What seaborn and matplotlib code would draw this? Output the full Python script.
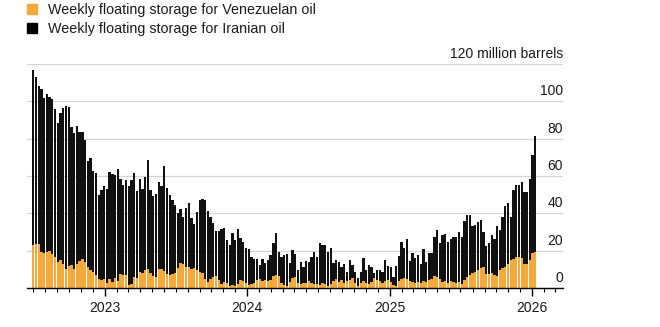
import numpy as np
import pandas as pd
import matplotlib
matplotlib.use("Agg")
import matplotlib.pyplot as plt
import matplotlib.dates as mdates
import matplotlib.transforms as mtransforms
from matplotlib.lines import Line2D
import seaborn as sns

# ---------------- data (million barrels, weekly) ----------------
first_week = "2022-07-01"

venezuelan = [
    23.2, 23.7, 23.7, 19.2, 18.9, 19.2, 19.6, 18.3, 16.6, 13.9, 14.8, 13.0, 10.0, 11.8, 12.5, 10.4, 13.0,
    14.4, 15.6, 13.9, 11.2, 9.5, 8.6, 7.2, 5.0, 4.1, 5.0, 2.9, 4.7, 3.3, 5.4, 3.6, 7.7, 7.2,
    6.9, 1.6, 2.1, 6.0, 5.2, 8.7, 7.8, 9.6, 10.0, 7.8, 6.4, 5.7, 10.0, 10.0, 9.3, 7.5, 6.9, 7.5,
    7.8, 10.5, 13.5, 12.8, 11.4, 11.4, 10.0, 10.9, 9.6, 8.7, 8.2, 4.6, 3.4, 4.6, 6.0, 6.4, 4.3, 2.1,
    3.4, 2.5, 1.0, 1.6, 1.0, 2.0, 4.3, 3.7, 2.5, 1.6, 2.0, 2.9, 4.3, 4.6, 3.7, 4.3, 3.9, 4.3, 6.4, 7.0,
    6.4, 2.5, 1.6, 1.0, 3.4, 5.2, 5.7, 2.5, 2.0, 2.9, 2.5, 3.9, 2.5, 2.0, 2.0, 1.6, 2.9, 2.0, 1.0, 2.0,
    3.9, 4.6, 3.4, 4.3, 2.5, 3.9, 4.3, 5.2, 2.5, 1.0, 2.9, 3.9, 2.9, 2.0, 3.4, 5.2, 4.3, 3.9, 2.5, 3.9,
    4.3, 3.4, 1.6, 1.0, 3.9, 4.6, 5.2, 4.6, 3.9, 3.4, 2.5, 3.4, 2.9, 3.9, 3.4, 4.3, 4.6, 6.4, 5.7, 4.6,
    3.4, 3.9, 2.9, 3.9, 3.4, 2.9, 3.4, 2.1, 4.3, 6.0, 6.9, 7.8, 8.7, 9.6, 10.5, 11.4, 7.5, 7.5, 8.2,
    6.9, 6.4, 9.5, 10.6, 11.5, 13.0, 15.0, 15.5, 16.5, 16.5, 16.0, 13.0, 13.0, 15.0, 19.0, 19.4,
]

iranian = [
    93.8, 89.3, 84.3, 87.4, 82.9, 84.8, 82.9, 82.7, 79.4, 74.5, 78.8, 83.6, 87.5, 85.2, 73.5, 72.5, 73.6,
    69.4, 68.2, 65.4, 57.1, 60.2, 54.0, 54.3, 44.9, 48.3, 49.4, 50.2, 57.7, 57.8, 54.9, 59.9, 50.8, 47.8,
    50.9, 52.9, 55.7, 55.7, 46.8, 49.9, 45.5, 49.6, 58.8, 44.6, 42.8, 44.9, 46.9, 44.9, 55.9, 46.3, 42.8, 39.6,
    36.6, 29.8, 28.6, 25.3, 31.7, 33.9, 27.6, 23.3, 31.2, 38.4, 39.4, 42.5, 38.0, 33.5, 28.9, 24.1, 26.3, 29.4,
    28.5, 23.2, 22.0, 27.7, 24.7, 29.4, 22.3, 21.1, 18.7, 19.1, 14.4, 12.4, 11.0, 7.7, 11.6, 9.2, 11.0, 13.3, 17.5, 22.3,
    13.0, 13.9, 16.0, 17.2, 9.8, 15.1, 12.5, 7.1, 12.1, 8.5, 12.1, 10.2, 14.3, 17.4, 14.8, 22.3, 20.1, 21.0, 18.4, 19.2,
    9.6, 10.3, 10.7, 6.7, 10.3, 4.8, 10.6, 7.1, 6.2, 4.2, 5.8, 12.0, 6.7, 10.3, 7.6, 3.0, 5.3, 5.7, 6.2, 11.0,
    7.4, 7.6, 4.5, 10.7, 13.2, 20.2, 16.0, 21.4, 10.5, 15.1, 13.4, 14.2, 9.9, 16.8, 10.7, 14.2, 14.3, 20.7, 25.3, 19.3,
    24.9, 24.8, 21.8, 22.6, 23.7, 24.5, 26.8, 25.3, 31.7, 33.0, 32.1, 25.3, 25.3, 25.8, 25.8, 18.8, 14.9, 16.7, 20.1,
    19.6, 26.7, 21.8, 27.5, 32.4, 32.6, 23.1, 37.2, 38.6, 38.6, 40.9, 38.5, 38.5, 43.6, 52.1, 61.9,
]

y_ticks = [0, 20, 40, 60, 80, 100, 120]
y_tick_labels = ["0", "20", "40", "60", "80", "100", "120 million barrels"]
legend_labels = ["Weekly floating storage for Venezuelan oil",
                 "Weekly floating storage for Iranian oil"]

# ---------------- styling ----------------
ORANGE = "#F6A93B"
BLACK = "#111111"
GRID = "#d5d5d5"
TEXT = "#1a1a1a"

weeks = pd.date_range(first_week, periods=len(venezuelan), freq="7D")
df = pd.DataFrame({
    "x": mdates.date2num(weeks.to_pydatetime()),
    "Venezuelan": venezuelan,
    "Iranian": iranian,
})
df["Total"] = df["Venezuelan"] + df["Iranian"]

sns.set_theme(style="white")
plt.rcParams["font.family"] = ["Liberation Sans", "DejaVu Sans"]

W, H = 660, 327
fig = plt.figure(figsize=(W / 100, H / 100), dpi=100)
ax_left, ax_right, ax_bottom, ax_top = 27, 563, 288, 64
ax = fig.add_axes([ax_left / W, 1 - ax_bottom / H, (ax_right - ax_left) / W, (ax_bottom - ax_top) / H])

# stacked bars: total (black, Iranian on top) then Venezuelan (orange) at the base
sns.barplot(data=df, x="x", y="Total", native_scale=True, orient="x", color=BLACK,
            saturation=1, width=0.84, errorbar=None, linewidth=0, ax=ax)
sns.barplot(data=df, x="x", y="Venezuelan", native_scale=True, orient="x", color=ORANGE,
            saturation=1, width=0.84, errorbar=None, linewidth=0, ax=ax)

ax.set_xlim(mdates.date2num(pd.Timestamp("2022-06-15")), mdates.date2num(pd.Timestamp("2026-03-21")))
ax.set_ylim(0, 120)
ax.set_xlabel("")
ax.set_ylabel("")

# grid and spines
ax.set_yticks(y_ticks)
ax.tick_params(axis="y", left=False, right=False, labelleft=False, labelright=False)
ax.yaxis.grid(True, color=GRID, linewidth=0.9)
ax.set_axisbelow(True)
for s in ["top", "right", "left"]:
    ax.spines[s].set_visible(False)
ax.spines["bottom"].set_color("black")
ax.spines["bottom"].set_linewidth(1.0)
ax.spines["bottom"].set_zorder(5)

# x axis ticks
ax.xaxis.set_major_locator(mdates.YearLocator())
ax.xaxis.set_major_formatter(mdates.DateFormatter("%Y"))
ax.xaxis.set_minor_locator(mdates.MonthLocator())
ax.tick_params(axis="x", which="major", bottom=True, length=6, width=1, color="black",
               pad=3.5, labelsize=10, labelcolor=TEXT)
ax.tick_params(axis="x", which="minor", bottom=True, length=3, width=0.8, color="black")

# y labels sit above gridlines at the right end
trans = mtransforms.offset_copy(ax.get_yaxis_transform(), fig=fig, y=4.3, units="points")
for v, lab in zip(y_ticks, y_tick_labels):
    ax.text(1.0, v, lab, transform=trans, ha="right", va="baseline", fontsize=10, color=TEXT)

# legend
handles = [Line2D([], [], marker="s", linestyle="", color=ORANGE, markersize=6.5),
           Line2D([], [], marker="s", linestyle="", color="black", markersize=6.5)]
fig.legend(handles, legend_labels, loc="upper left", bbox_to_anchor=(26.6 / W, 1 - 3 / H),
           frameon=False, fontsize=10.3, handlelength=0.7, handletextpad=0.8,
           labelspacing=0.35, borderpad=0, borderaxespad=0, labelcolor=TEXT)

fig.savefig("out.png", dpi=100)
